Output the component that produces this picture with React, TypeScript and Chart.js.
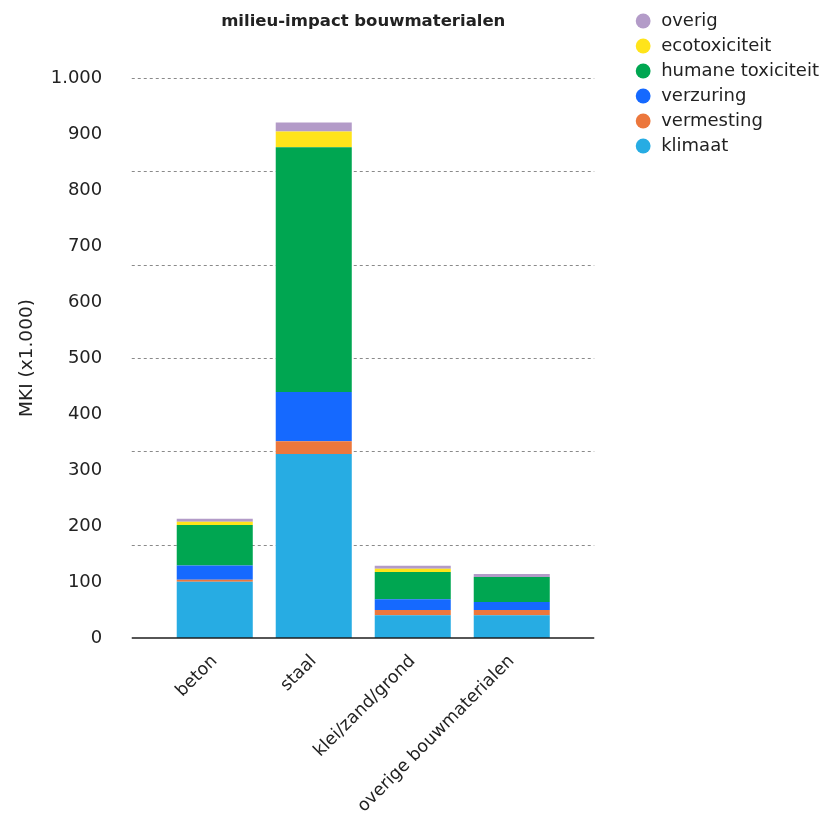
import { useEffect, useRef } from 'react';
import { Chart, registerables } from 'chart.js';

Chart.register(...registerables);

const categories = ['beton', 'staal', 'klei/zand/grond', 'overige bouwmaterialen'];
const klimaat = [100.5, 328.5, 40.5, 40.5];
const vermesting = [3.5, 23, 9.5, 9.5];
const verzuring = [25.5, 88, 19, 14.5];
const humaneToxiciteit = [72.5, 437, 49, 44.5];
const ecotoxiciteit = [5.5, 28, 5.5, 0];
const overig = [5.5, 16, 5.5, 5.5];

const yMin = 0;
const yMax = 1000;
const yStep = 100;
const gridValues = [1000 / 6, 2000 / 6, 3000 / 6, 4000 / 6, 5000 / 6, 1000];

const FONT = '"DejaVu Sans", sans-serif';

function formatNl(v: number): string {
  const s = Math.round(v).toString();
  return s.replace(/\B(?=(\d{3})+(?!\d))/g, '.');
}

const gridPlugin = {
  id: 'customGrid',
  beforeDatasetsDraw(chart: any) {
    const { ctx, chartArea, scales } = chart;
    const y = scales.y;
    const left = chartArea.left - 33.5;
    const right = chartArea.right + 33;
    ctx.save();
    ctx.strokeStyle = '#8a8a8a';
    ctx.lineWidth = 1;
    ctx.setLineDash([3, 3]);
    gridValues.forEach((v) => {
      const py = Math.round(y.getPixelForValue(v)) + 0.5;
      ctx.beginPath();
      ctx.moveTo(left, py);
      ctx.lineTo(right, py);
      ctx.stroke();
    });
    ctx.restore();
  },
  afterDatasetsDraw(chart: any) {
    const { ctx, chartArea, scales } = chart;
    const y = scales.y;
    const left = chartArea.left - 33.5;
    const right = chartArea.right + 33;
    const py = y.getPixelForValue(0);
    ctx.save();
    ctx.strokeStyle = '#1e1e1e';
    ctx.lineWidth = 1.5;
    ctx.beginPath();
    ctx.moveTo(left, py);
    ctx.lineTo(right, py);
    ctx.stroke();
    ctx.restore();
  },
};

export default function App() {
  const ref = useRef<HTMLCanvasElement | null>(null);

  useEffect(() => {
    if (!ref.current) return;
    const chart = new Chart(ref.current, {
      type: 'bar',
      data: {
        labels: categories,
        datasets: [
          { label: 'klimaat', data: klimaat, backgroundColor: '#27ACE3' },
          { label: 'vermesting', data: vermesting, backgroundColor: '#EC773C' },
          { label: 'verzuring', data: verzuring, backgroundColor: '#1569FF' },
          { label: 'humane toxiciteit', data: humaneToxiciteit, backgroundColor: '#00A651' },
          { label: 'ecotoxiciteit', data: ecotoxiciteit, backgroundColor: '#FFE41A' },
          { label: 'overig', data: overig, backgroundColor: '#B39BC8' },
        ],
      },
      options: {
        animation: false,
        responsive: true,
        maintainAspectRatio: false,
        datasets: {
          bar: { categoryPercentage: 1, barPercentage: 0.768, borderWidth: 0 },
        },
        layout: { padding: { top: 5 } },
        plugins: {
          title: {
            display: true,
            text: 'milieu-impact bouwmaterialen',
            fullSize: false,
            color: '#222',
            font: { family: FONT, size: 16.5, weight: 'bold' },
            padding: { top: 6.5, bottom: 46.7 },
          },
          legend: {
            position: 'right',
            align: 'start',
            reverse: true,
            labels: {
              usePointStyle: true,
              pointStyle: 'circle',
              boxWidth: 19,
              boxHeight: 10.5,
              padding: 7,
              color: '#222',
              font: { family: FONT, size: 18 },
            },
          },
          tooltip: { enabled: false },
        },
        scales: {
          x: {
            stacked: true,
            grid: { display: false },
            border: { display: false },
            ticks: {
              color: '#222',
              font: { family: FONT, size: 17.5 },
              maxRotation: 45,
              minRotation: 45,
              autoSkip: false,
              padding: 5,
            },
            afterFit: (scale: any) => {
              scale.height = 179;
            },
          },
          y: {
            stacked: true,
            min: yMin,
            max: yMax,
            grid: { display: false, drawTicks: false },
            border: { display: false },
            ticks: {
              stepSize: yStep,
              color: '#222',
              padding: 63,
              font: { family: FONT, size: 18 },
              callback: (v: any) => formatNl(Number(v)),
            },
            title: {
              display: true,
              text: 'MKI (x1.000)',
              color: '#222',
              font: { family: FONT, size: 18.5 },
              padding: { top: 16, bottom: 0 },
            },
            afterFit: (scale: any) => {
              scale.width = 165.25;
            },
          },
          yRight: {
            position: 'right',
            display: false,
            afterFit: (scale: any) => {
              const ch = scale.chart;
              const lw = ch.legend ? ch.legend.width : 200;
              scale.width = Math.max(0, ch.width - lw - 561.25);
            },
          },
        },
      },
      plugins: [gridPlugin],
    } as any);
    return () => chart.destroy();
  }, []);

  return (
    <div style={{ position: 'fixed', left: 0, top: 0, width: 829, height: 817, background: '#fff' }}>
      <canvas ref={ref} />
    </div>
  );
}
